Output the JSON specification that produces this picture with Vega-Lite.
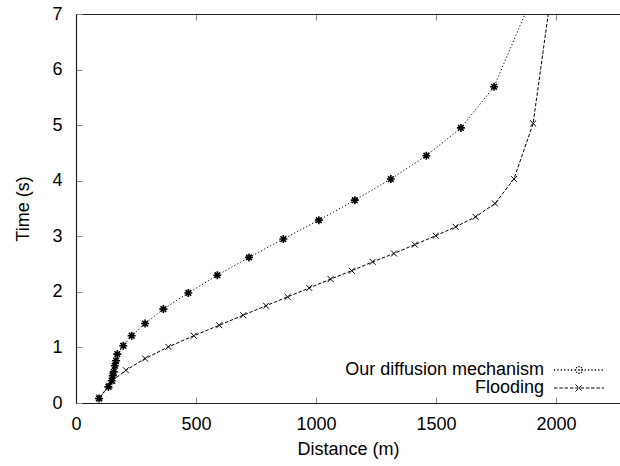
{
  "$schema": "https://vega.github.io/schema/vega-lite/v6.json",
  "autosize": {"type": "none"},
  "padding": {"left": 76, "top": 14, "right": 0, "bottom": 63},
  "width": 544,
  "height": 389,
  "background": "white",
  "config": {
    "view": {"stroke": null},
    "font": "Liberation Sans",
    "axis": {
      "labelFont": "Liberation Sans",
      "labelFontSize": 18,
      "labelColor": "black",
      "titleFont": "Liberation Sans",
      "titleFontSize": 18,
      "titleFontWeight": "normal",
      "titleColor": "black",
      "tickColor": "#888888",
      "tickSize": -6,
      "domainColor": "#222222",
      "domainWidth": 1.2,
      "grid": false,
      "labelFlush": false,
      "labelOverlap": false
    }
  },
  "data": {
    "values": [
      {"series": "Our diffusion mechanism", "d": 96, "t": 0.08},
      {"series": "Our diffusion mechanism", "d": 135, "t": 0.29},
      {"series": "Our diffusion mechanism", "d": 149, "t": 0.40},
      {"series": "Our diffusion mechanism", "d": 153, "t": 0.49},
      {"series": "Our diffusion mechanism", "d": 157, "t": 0.56},
      {"series": "Our diffusion mechanism", "d": 162, "t": 0.67},
      {"series": "Our diffusion mechanism", "d": 167, "t": 0.76},
      {"series": "Our diffusion mechanism", "d": 172, "t": 0.88},
      {"series": "Our diffusion mechanism", "d": 197, "t": 1.03},
      {"series": "Our diffusion mechanism", "d": 232, "t": 1.21},
      {"series": "Our diffusion mechanism", "d": 288, "t": 1.43},
      {"series": "Our diffusion mechanism", "d": 364, "t": 1.69},
      {"series": "Our diffusion mechanism", "d": 468, "t": 1.98},
      {"series": "Our diffusion mechanism", "d": 589, "t": 2.30},
      {"series": "Our diffusion mechanism", "d": 721, "t": 2.62},
      {"series": "Our diffusion mechanism", "d": 864, "t": 2.95},
      {"series": "Our diffusion mechanism", "d": 1012, "t": 3.29},
      {"series": "Our diffusion mechanism", "d": 1162, "t": 3.65},
      {"series": "Our diffusion mechanism", "d": 1312, "t": 4.03},
      {"series": "Our diffusion mechanism", "d": 1460, "t": 4.45},
      {"series": "Our diffusion mechanism", "d": 1604, "t": 4.95},
      {"series": "Our diffusion mechanism", "d": 1742, "t": 5.69},
      {"series": "Our diffusion mechanism", "d": 1950, "t": 7.80},
      {"series": "Flooding", "d": 97, "t": 0.10},
      {"series": "Flooding", "d": 138, "t": 0.31},
      {"series": "Flooding", "d": 151, "t": 0.40},
      {"series": "Flooding", "d": 208, "t": 0.59},
      {"series": "Flooding", "d": 288, "t": 0.80},
      {"series": "Flooding", "d": 385, "t": 1.01},
      {"series": "Flooding", "d": 491, "t": 1.21},
      {"series": "Flooding", "d": 597, "t": 1.40},
      {"series": "Flooding", "d": 697, "t": 1.58},
      {"series": "Flooding", "d": 792, "t": 1.75},
      {"series": "Flooding", "d": 882, "t": 1.91},
      {"series": "Flooding", "d": 972, "t": 2.07},
      {"series": "Flooding", "d": 1061, "t": 2.23},
      {"series": "Flooding", "d": 1149, "t": 2.38},
      {"series": "Flooding", "d": 1236, "t": 2.54},
      {"series": "Flooding", "d": 1325, "t": 2.69},
      {"series": "Flooding", "d": 1412, "t": 2.85},
      {"series": "Flooding", "d": 1499, "t": 3.01},
      {"series": "Flooding", "d": 1582, "t": 3.17},
      {"series": "Flooding", "d": 1665, "t": 3.35},
      {"series": "Flooding", "d": 1746, "t": 3.59},
      {"series": "Flooding", "d": 1825, "t": 4.03},
      {"series": "Flooding", "d": 1905, "t": 5.03},
      {"series": "Flooding", "d": 2000, "t": 8.00}
    ]
  },
  "layer": [
    {
      "mark": {"type": "line", "clip": true, "color": "black", "strokeWidth": 1},
      "encoding": {
        "x": {
          "field": "d", "type": "quantitative",
          "scale": {"domain": [0, 2267], "nice": false, "zero": false},
          "axis": {"orient": "bottom", "title": "Distance (m)", "format": "d", "values": [0, 500, 1000, 1500, 2000], "labelPadding": 18, "titlePadding": 7}
        },
        "y": {
          "field": "t", "type": "quantitative",
          "scale": {"domain": [0, 7], "nice": false},
          "axis": {"title": "Time (s)", "format": "d", "values": [0, 1, 2, 3, 4, 5, 6, 7], "labelPadding": 20, "titlePadding": 19}
        },
        "strokeDash": {
          "field": "series", "type": "nominal",
          "scale": {"domain": ["Our diffusion mechanism", "Flooding"], "range": [[1.2, 2.2], [3.5, 1.8]]},
          "legend": {
            "orient": "none",
            "legendX": 494,
            "legendY": 347,
            "title": null,
            "symbolSize": 2500,
            "symbolStrokeWidth": 1,
            "symbolStrokeColor": "black",
            "symbolOffset": 0,
            "labelOffset": -44,
            "labelAlign": "right",
            "labelFont": "Liberation Sans",
            "labelFontSize": 18,
            "labelColor": "black",
            "labelLimit": 400,
            "rowPadding": 0,
            "encode": {
              "labels": {
                "update": {
                  "align": {"value": "right"}
                }
              },
              "symbols": {
                "update": {
                  "shape": {"signal": "datum.value === 'Flooding' ? 'M-1,0L-0.86,0M-0.788,0L-0.648,0M-0.576,0L-0.436,0M-0.364,0L-0.224,0M-0.152,0L-0.012,0M0.06,0L0.2,0M0.272,0L0.412,0M0.484,0L0.624,0M0.696,0L0.836,0M0.908,0L1,0M-0.14,-0.14L0.14,0.14M-0.14,0.14L0.14,-0.14' : 'M-1,0L-0.95,0M-0.864,0L-0.814,0M-0.728,0L-0.678,0M-0.592,0L-0.542,0M-0.456,0L-0.406,0M-0.32,0L-0.27,0M-0.184,0L-0.134,0M0.088,0L0.138,0M0.224,0L0.274,0M0.36,0L0.41,0M0.496,0L0.546,0M0.632,0L0.682,0M0.768,0L0.818,0M0.904,0L0.954,0M-0.16,0L0.16,0M0,-0.16L0,0.16M-0.113,-0.113L0.113,0.113M-0.113,0.113L0.113,-0.113'"},
                  "stroke": {"value": "black"},
                  "strokeDash": {"value": [1, 0]},
                  "fill": {"value": "transparent"},
                  "strokeWidth": {"signal": "datum.value === 'Flooding' ? 1 : 1.3"}
                }
              }
            }
          }
        },
        "detail": {"field": "series"}
      }
    },
    {
      "transform": [{"filter": "datum.series === 'Our diffusion mechanism'"}],
      "mark": {
        "type": "point", "clip": true, "filled": false, "color": "black", "opacity": 1, "size": 64, "strokeWidth": 1.6,
        "shape": "M-1,0L1,0M0,-1L0,1M-0.71,-0.71L0.71,0.71M-0.71,0.71L0.71,-0.71"
      },
      "encoding": {
        "x": {
          "field": "d", "type": "quantitative",
          "axis": {"orient": "top", "title": null, "labels": false, "values": [0, 500, 1000, 1500, 2000]}
        },
        "y": {"field": "t", "type": "quantitative"}
      }
    },
    {
      "transform": [{"filter": "datum.series === 'Flooding'"}],
      "mark": {
        "type": "point", "clip": true, "filled": false, "color": "black", "opacity": 1, "size": 56, "strokeWidth": 1,
        "shape": "M-0.8,-0.8L0.8,0.8M-0.8,0.8L0.8,-0.8"
      },
      "encoding": {
        "x": {"field": "d", "type": "quantitative", "axis": null},
        "y": {"field": "t", "type": "quantitative"}
      }
    }
  ],
  "resolve": {"axis": {"x": "independent"}}
}
